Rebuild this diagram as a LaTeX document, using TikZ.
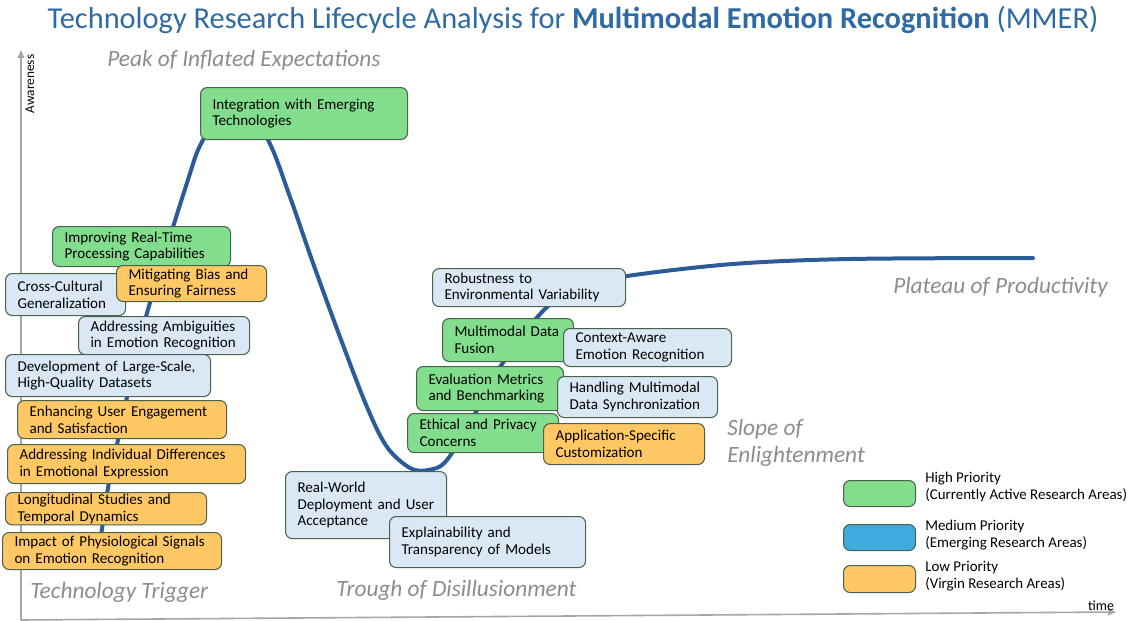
\documentclass[tikz,border=0pt]{standalone}
\usepackage{fontspec}
\setmainfont{Carlito}
\usepackage{tikz}
\usetikzlibrary{arrows.meta,positioning}

\definecolor{hipri}{RGB}{130,222,140}
\definecolor{midpri}{RGB}{218,232,246}
\definecolor{midkey}{RGB}{64,170,222}
\definecolor{lopri}{RGB}{255,200,100}
\definecolor{cardline}{RGB}{72,98,78}
\definecolor{hype}{RGB}{43,92,152}
\definecolor{titleblue}{RGB}{46,106,164}
\definecolor{phasegray}{RGB}{140,140,140}
\definecolor{axisgray}{RGB}{166,166,166}

\tikzset{
  card/.code 2 args={%
    \pgfmathsetmacro\cardw{#1*0.75}%
    \pgfmathsetmacro\cardh{#2*0.75}%
    \pgfmathsetmacro\cardt{#1*0.75-18}%
    \pgfkeysalso{minimum width=\cardw pt,minimum height=\cardh pt,text width=\cardt pt}}
}

\begin{document}
\begin{tikzpicture}[x=0.75pt,y=-0.75pt]
  \tikzstyle{every card}=[draw=cardline,line width=0.8pt,rounded corners=5pt,
    anchor=north west,inner xsep=9pt,inner ysep=1pt,align=left,
    font=\fontsize{11.3}{12.6}\selectfont]
  \tikzstyle{hi}=[every card,fill=hipri]
  \tikzstyle{mid}=[every card,fill=midpri]
  \tikzstyle{lo}=[every card,fill=lopri]
  \tikzstyle{phase}=[anchor=west,inner sep=0pt,text=phasegray,align=left,
    font=\fontsize{17.5}{20}\selectfont\itshape]
  \tikzstyle{keytext}=[anchor=west,inner sep=0pt,align=left,
    font=\fontsize{11.2}{12.75}\selectfont]

  \useasboundingbox (0,0) rectangle (1133,621);

  \node (title) at (573,20) {\fontsize{22.8}{26}\selectfont\color{titleblue}%
    Technology Research Lifecycle Analysis for \textbf{Multimodal Emotion Recognition} (MMER)};

  % axes
  \coordinate (origin) at (21,620);
  \coordinate (ytop)   at (21,50);
  \coordinate (xend)   at (1116,612);
  \draw[axisgray,line width=1.2pt,-{Triangle[length=6pt,width=5pt]}] (origin) -- (ytop);
  \draw[axisgray,line width=1.2pt,-{Triangle[length=6pt,width=5pt]}] (origin) -- (xend);
  \node[rotate=90,inner sep=0pt,font=\fontsize{10}{11}\selectfont] (awareness) at (30,84) {Awareness};
  \node[inner sep=0pt,font=\fontsize{10.5}{11}\selectfont] (time) at (1101,606) {time};

  % hype curve
  \draw[hype,line width=3pt,line cap=round] plot[smooth,tension=0.55] coordinates {
    (97,565) (108,488) (118,440) (127,397) (147,313) (186,186)
    (203,140) (236,96) (268,140) (290,197) (313,263) (340,337) (367,407)
    (387,447) (410,468) (428,470) (447,460) (477,410) (500,367) (547,307)
    (590,285) (627,276) (733,264) (850,259) (1033,258)};

  % phase names
  \node[phase] (peak)    at (107,60)  {Peak of Inflated Expectations};
  \node[phase] (trigger) at (30,592)  {Technology Trigger};
  \node[phase] (trough)  at (336,590) {Trough of Disillusionment};
  \node[phase] (slope)   at (727,443) {Slope of\\Enlightenment};
  \node[phase] (plateau) at (893,287) {Plateau of Productivity};

  % trigger side
  \node[hi,card={207}{52}]  (integ)     at (200,87)  {Integration with Emerging\\Technologies};
  \node[hi,card={178}{40}]  (realtime)  at (52,226)  {Improving Real-Time\\Processing Capabilities};
  \node[mid,card={120}{42}] (crosscult) at (5,273)   {Cross-Cultural\\Generalization};
  \node[lo,card={150}{36}]  (bias)      at (116,265) {Mitigating Bias and\\Ensuring Fairness};
  \node[mid,card={171}{38}] (ambig)     at (78,316)  {Addressing Ambiguities\\in Emotion Recognition};
  \node[mid,card={205}{42}] (datasets)  at (5,354)   {Development of Large-Scale,\\High-Quality Datasets};
  \node[lo,card={209}{38}]  (engage)    at (17,400)  {Enhancing User Engagement\\and Satisfaction};
  \node[lo,card={238}{39}]  (individ)   at (7,444)   {Addressing Individual Differences\\in Emotional Expression};
  \node[lo,card={201}{32}]  (longit)    at (5,492)   {Longitudinal Studies and\\Temporal Dynamics};
  \node[lo,card={219}{37}]  (physio)    at (2,532)   {Impact of Physiological Signals\\on Emotion Recognition};

  % trough
  \node[mid,card={161}{67}] (deploy)  at (285,471) {Real-World\\Deployment and User\\Acceptance};
  \node[mid,card={196}{51}] (explain) at (389,516) {Explainability and\\Transparency of Models};

  % slope
  \node[mid,card={193}{38}] (robust)  at (432,268) {Robustness to\\Environmental Variability};
  \node[hi,card={131}{43}]  (fusion)  at (442,318) {Multimodal Data\\Fusion};
  \node[mid,card={168}{38}] (context) at (563,328) {Context-Aware\\Emotion Recognition};
  \node[hi,card={147}{44}]  (evalm)   at (416,366) {Evaluation Metrics\\and Benchmarking};
  \node[mid,card={160}{41}] (sync)    at (557,376) {Handling Multimodal\\Data Synchronization};
  \node[hi,card={151}{39}]  (ethics)  at (407,413) {Ethical and Privacy\\Concerns};
  \node[lo,card={161}{41}]  (custom)  at (543,423) {Application-Specific\\Customization};

  % legend
  \node[hi,card={72}{26}]                     (key_hi)  at (843,480) {};
  \node[every card,fill=midkey,card={72}{26}] (key_mid) at (843,524) {};
  \node[lo,card={72}{27}]                     (key_lo)  at (843,565) {};
  \node[keytext] (keytext_hi)  at (925,487) {High Priority\\(Currently Active Research Areas)};
  \node[keytext] (keytext_mid) at (925,535) {Medium Priority\\(Emerging Research Areas)};
  \node[keytext] (keytext_lo)  at (925,576) {Low Priority\\(Virgin Research Areas)};
\end{tikzpicture}
\end{document}
